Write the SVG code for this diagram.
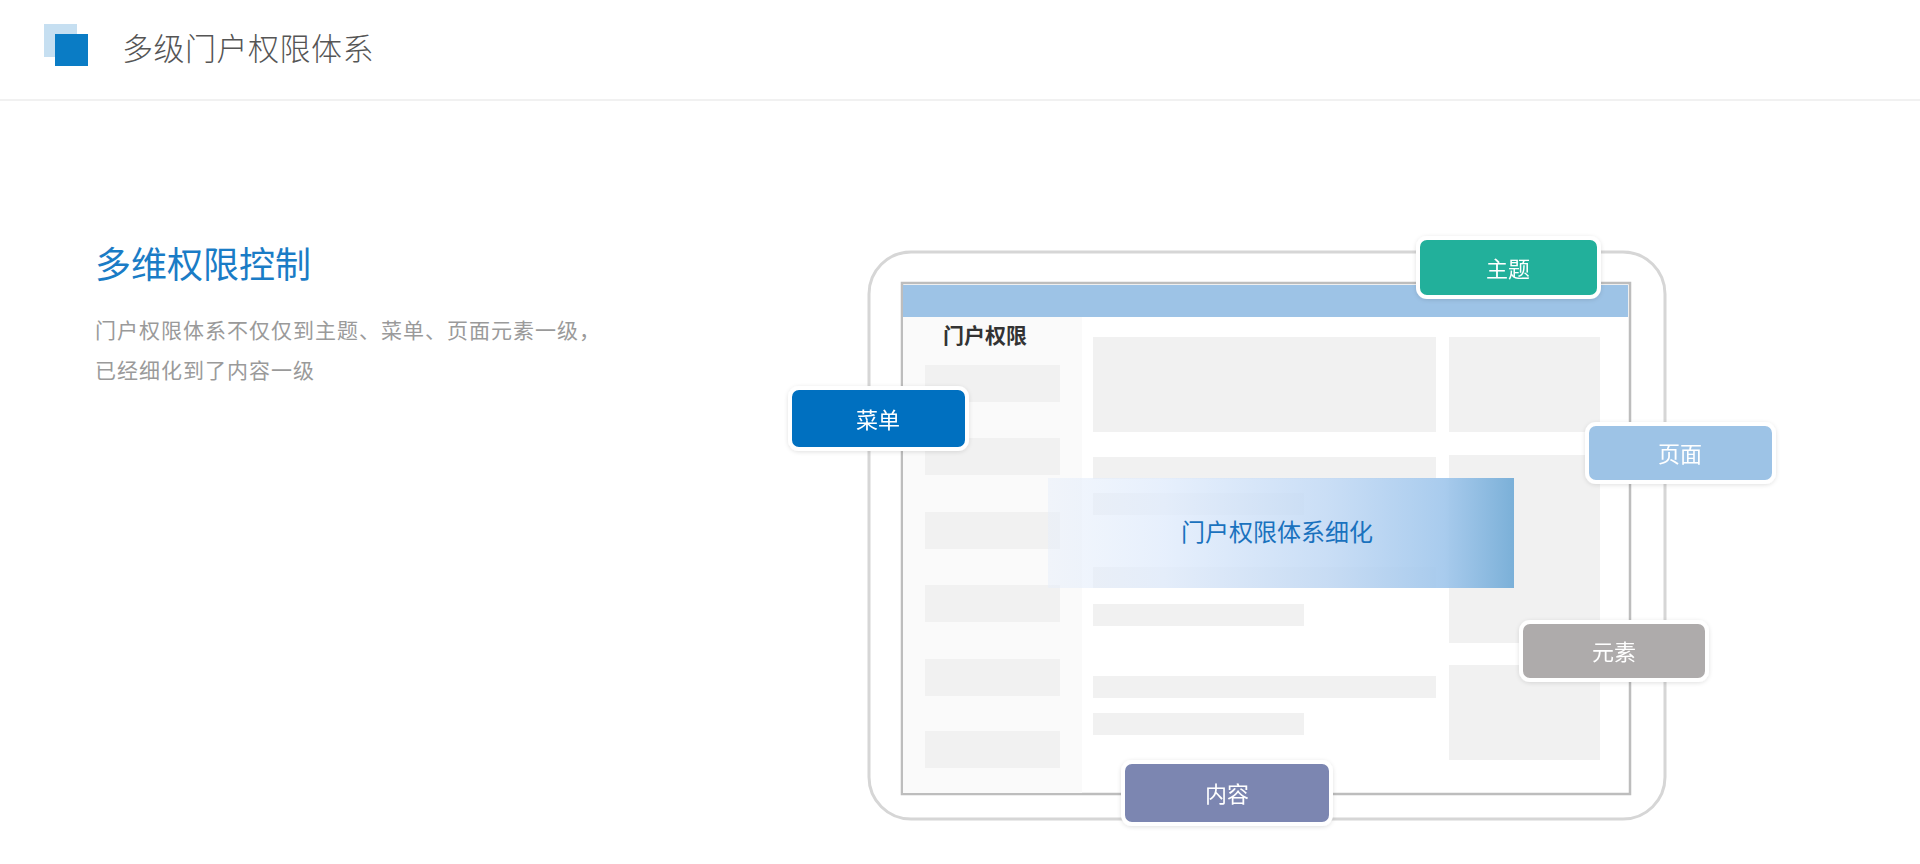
<svg xmlns="http://www.w3.org/2000/svg" width="1920" height="864" viewBox="0 0 1920 864">
<defs>
<style>
text{font-family:"Noto Sans CJK SC","Noto Sans",sans-serif}
.lbl{fill:#ffffff;font-size:22px;text-anchor:middle;dominant-baseline:central}
.box{stroke:#ffffff;stroke-width:4}
.blk{fill:#f1f1f1}
.side{fill:#f1f1f1}
</style>
<linearGradient id="g" x1="0" y1="0" x2="1" y2="0">
<stop offset="0" stop-color="#e6eefa" stop-opacity="0.5"/>
<stop offset="0.25" stop-color="#e1ecfc" stop-opacity="0.82"/>
<stop offset="0.6" stop-color="#c0d8f4" stop-opacity="0.85"/>
<stop offset="0.85" stop-color="#a1c7ec" stop-opacity="0.92"/>
<stop offset="1" stop-color="#7bb0d8" stop-opacity="1"/>
</linearGradient>
<filter id="sh" x="-10%" y="-20%" width="120%" height="140%">
<feDropShadow dx="0" dy="1" stdDeviation="2" flood-color="#000" flood-opacity="0.12"/>
</filter>
</defs>
<rect width="1920" height="864" fill="#ffffff"/>
<g id="header">
<rect x="44" y="24" width="33" height="33" fill="#c6dff1"/>
<rect x="55" y="34" width="33" height="32" fill="#0a7cc5"/>
<text x="122" y="60" font-size="31" font-weight="300" fill="#555555" letter-spacing="0.5">多级门户权限体系</text>
<line x1="0" y1="100" x2="1920" y2="100" stroke="#ececec" stroke-width="1.5"/>
</g>
<g id="intro">
<text x="95" y="278" font-size="36" fill="#1a7cc6">多维权限控制</text>
<text x="95" y="338" font-size="21" letter-spacing="1" fill="#9a9a9a">门户权限体系不仅仅到主题、菜单、页面元素一级，</text>
<text x="95" y="378" font-size="21" letter-spacing="1" fill="#9a9a9a">已经细化到了内容一级</text>
</g>
<g id="tablet">
<rect x="869" y="252" width="796" height="567" rx="42" fill="#ffffff" stroke="#d6d6d6" stroke-width="3"/>
<rect x="902" y="283" width="728" height="511" fill="#ffffff" stroke="#bdbdbd" stroke-width="2.5"/>
<rect x="903" y="285" width="725" height="32" fill="#9dc3e6"/>
<rect x="903" y="317" width="179" height="476" fill="#fafafa"/>
<text x="943" y="343" font-size="21" font-weight="bold" fill="#333333" font-family="'Noto Serif CJK SC','Noto Sans CJK SC',serif">门户权限</text>
<rect class="side" x="925" y="365" width="135" height="37"/>
<rect class="side" x="925" y="438" width="135" height="37"/>
<rect class="side" x="925" y="512" width="135" height="37"/>
<rect class="side" x="925" y="585" width="135" height="37"/>
<rect class="side" x="925" y="659" width="135" height="37"/>
<rect class="side" x="925" y="731" width="135" height="37"/>
<rect class="blk" x="1093" y="337" width="343" height="95"/>
<rect class="blk" x="1449" y="337" width="151" height="95"/>
<rect class="blk" x="1093" y="457" width="343" height="22"/>
<rect class="blk" x="1093" y="493" width="211" height="22"/>
<rect class="blk" x="1093" y="567" width="343" height="21"/>
<rect class="blk" x="1093" y="604" width="211" height="22"/>
<rect class="blk" x="1093" y="676" width="343" height="22"/>
<rect class="blk" x="1093" y="713" width="211" height="22"/>
<rect class="blk" x="1449" y="455" width="151" height="188"/>
<rect class="blk" x="1449" y="665" width="151" height="95"/>
</g>
<g id="detail">
<rect x="1048" y="478" width="466" height="110" fill="url(#g)"/>
<text x="1277" y="530" font-size="24" fill="#1a72be" text-anchor="middle" dominant-baseline="central">门户权限体系细化</text>
</g>
<g id="node-theme" filter="url(#sh)">
<rect class="box" x="1418" y="238" width="181" height="59" rx="9" fill="#24b09b"/>
<text class="lbl" x="1508" y="267">主题</text>
</g>
<g id="node-menu" filter="url(#sh)">
<rect class="box" x="790" y="388" width="177" height="61" rx="9" fill="#0070c0"/>
<text class="lbl" x="878" y="418">菜单</text>
</g>
<g id="node-page" filter="url(#sh)">
<rect class="box" x="1587" y="424" width="187" height="58" rx="9" fill="#9dc3e6"/>
<text class="lbl" x="1680" y="452">页面</text>
</g>
<g id="node-element" filter="url(#sh)">
<rect class="box" x="1521" y="622" width="186" height="58" rx="9" fill="#aeabab"/>
<text class="lbl" x="1614" y="650">元素</text>
</g>
<g id="node-content" filter="url(#sh)">
<rect class="box" x="1123" y="762" width="208" height="62" rx="9" fill="#7b86b1"/>
<text class="lbl" x="1227" y="792">内容</text>
</g>
</svg>
